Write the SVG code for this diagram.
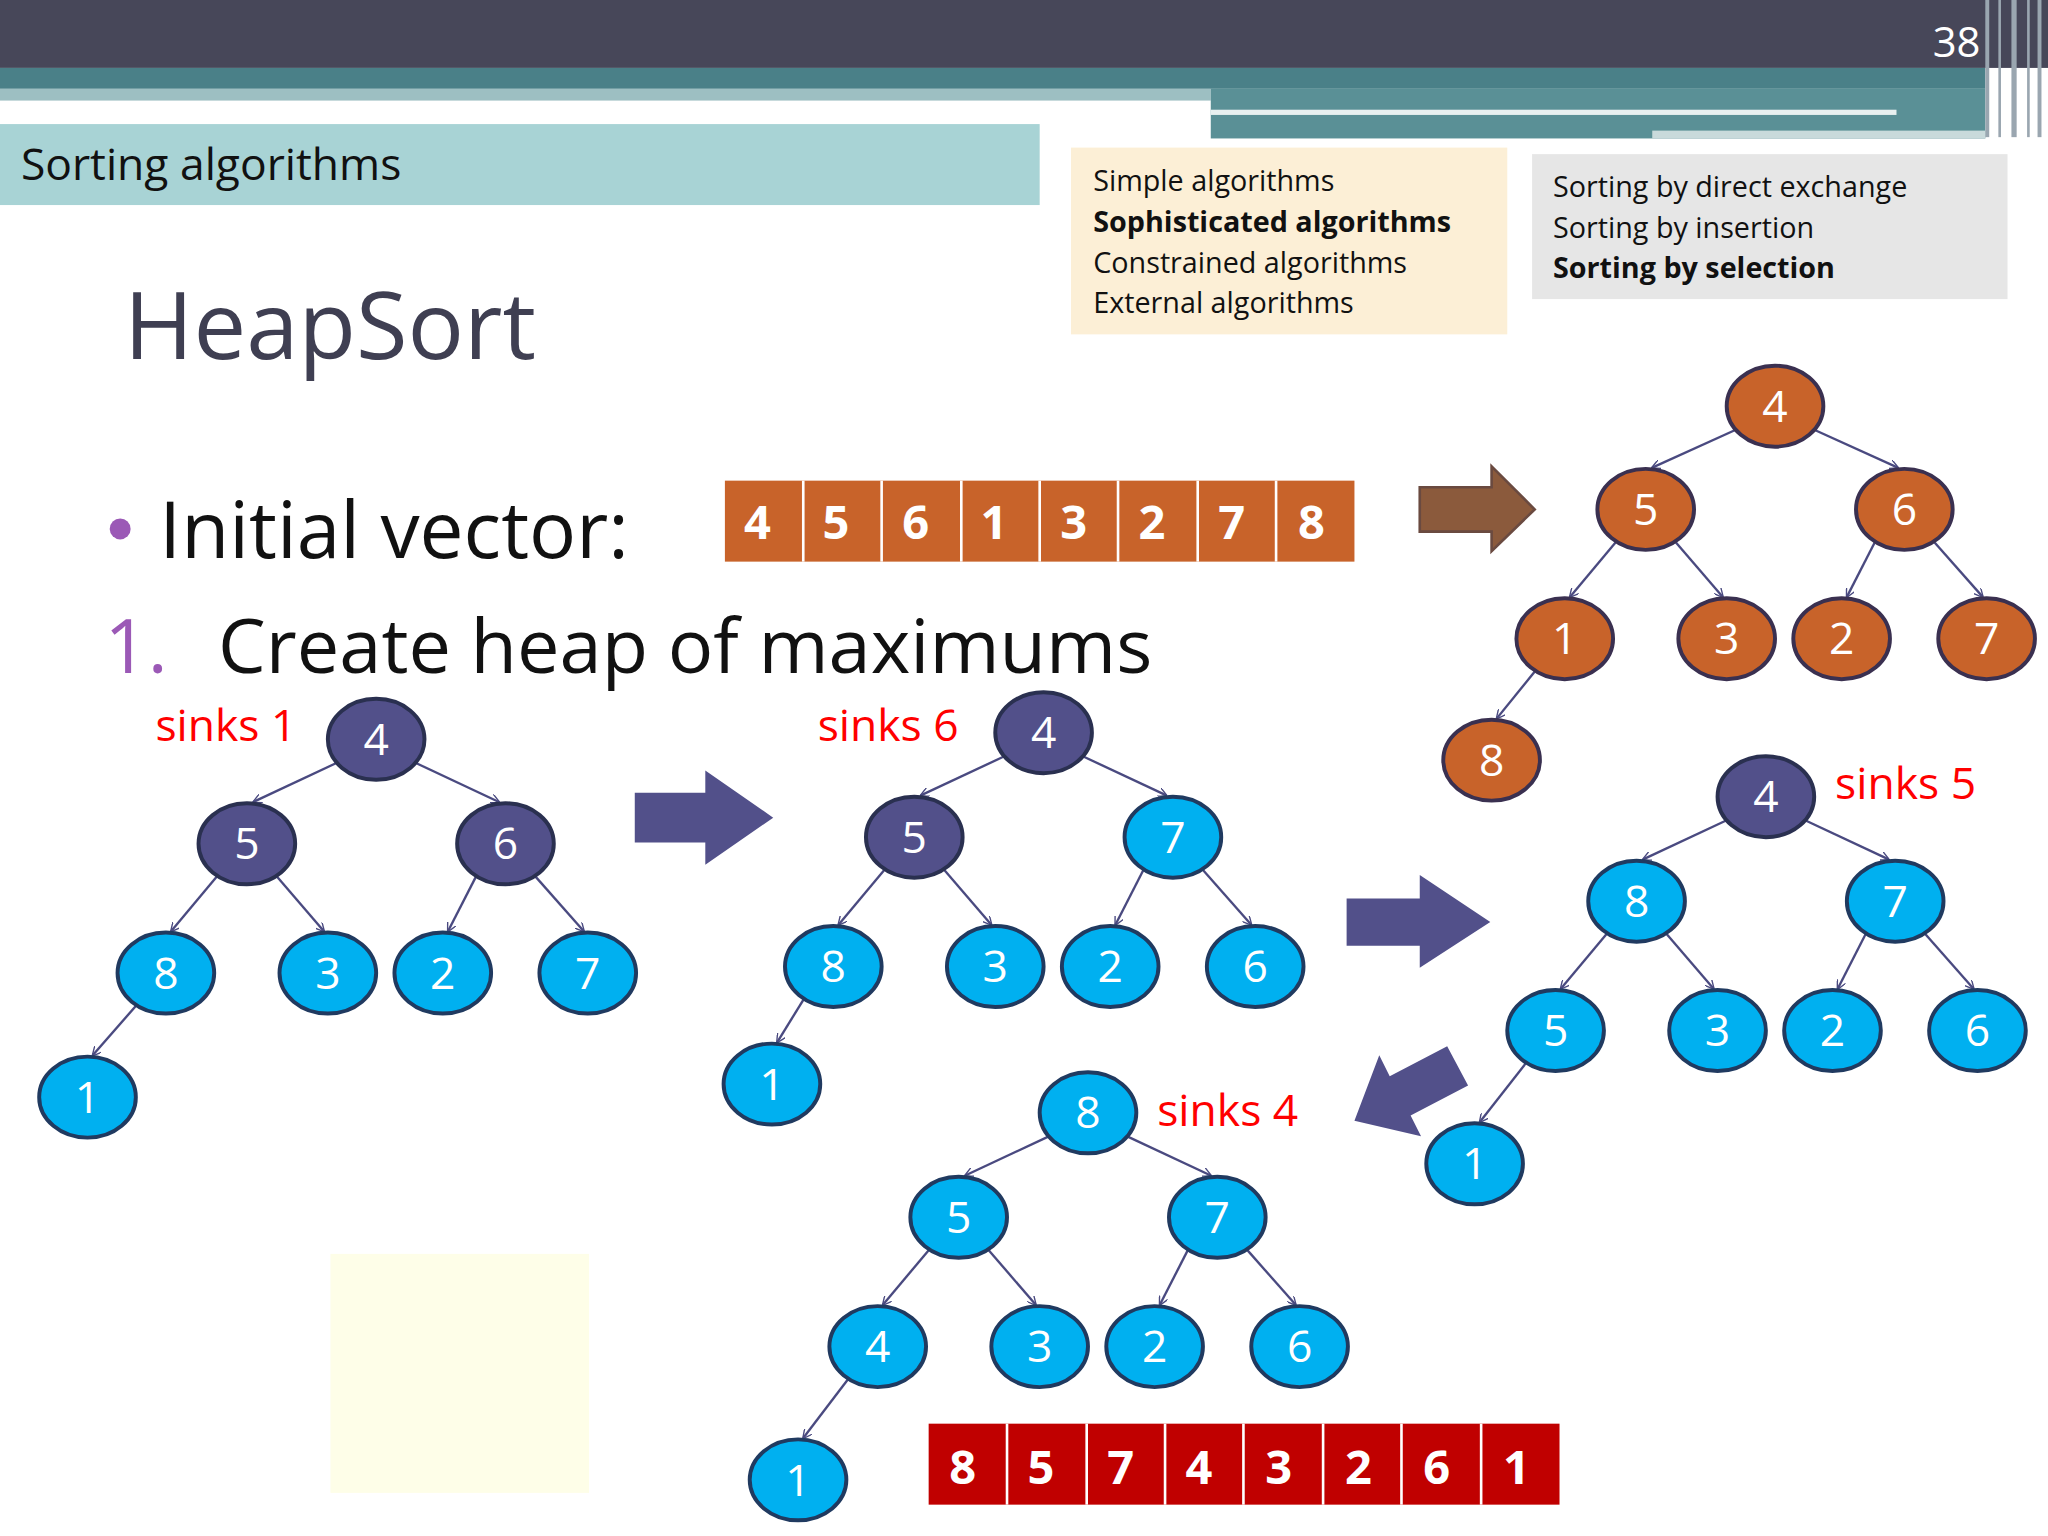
<svg xmlns="http://www.w3.org/2000/svg" width="2048" height="1536" viewBox="0 0 2048 1536">
<defs>
<marker id="ah" viewBox="0 0 10 10" refX="9" refY="5" markerWidth="7" markerHeight="7" orient="auto" markerUnits="userSpaceOnUse"><path d="M0,0 L10,5 L0,10" fill="none" stroke="#4a4a80" stroke-width="1.5"/></marker>
<style>
.nd{fill:#52508a;stroke:#2a3050;stroke-width:3}
.lb{fill:#00b0f0;stroke:#203a60;stroke-width:3}
.or{fill:#c8632a;stroke:#3a3050;stroke-width:3}
.nt{font-family:"Open Sans","DejaVu Sans",sans-serif;font-size:34px;fill:#fff;text-anchor:middle}
.e line{stroke:#4a4a80;stroke-width:1.8;marker-end:url(#ah)}
.sk{font-family:"Open Sans","DejaVu Sans",sans-serif;font-size:34px;fill:#ff0000}
.ct{font-family:"Open Sans","DejaVu Sans",sans-serif;font-size:36px;font-weight:bold;fill:#fff;text-anchor:middle}
.sm{font-family:"Open Sans","DejaVu Sans",sans-serif;font-size:22px;fill:#111}
</style>
</defs>
<rect width="2048" height="1536" fill="#fff"/>
<g transform="scale(1.306122)">
<rect x="0" y="0" width="1568" height="52" fill="#474759"/>
<rect x="0" y="52" width="1520" height="16" fill="#4a8088"/>
<rect x="0" y="68" width="927" height="9" fill="#9dbfc2"/>
<rect x="927" y="68" width="593" height="38" fill="#5a9096"/>
<rect x="927" y="84" width="525" height="4" fill="#e8f0f0"/>
<rect x="1265" y="100" width="255" height="6" fill="#c9dadb"/>
<g fill="#9aa6b0"><rect x="1520" y="0" width="3" height="105"/><rect x="1530" y="0" width="2" height="105"/><rect x="1540" y="0" width="4" height="105"/><rect x="1552" y="0" width="2" height="105"/><rect x="1560" y="0" width="3" height="105"/></g>
<text x="1498" y="44" font-family="Open Sans,sans-serif" font-size="32" fill="#fff" text-anchor="middle">38</text>
<rect x="0" y="95" width="796" height="62" fill="#a8d3d5"/>
<text x="16" y="138" font-family="Open Sans,sans-serif" font-size="34" fill="#111">Sorting algorithms</text>
<rect x="820" y="113" width="334" height="143" fill="#fcefd6"/>
<text class="sm" x="837" y="146">Simple algorithms</text>
<text class="sm" x="837" y="178" font-weight="bold">Sophisticated algorithms</text>
<text class="sm" x="837" y="209">Constrained algorithms</text>
<text class="sm" x="837" y="240">External algorithms</text>
<rect x="1173" y="118" width="364" height="111" fill="#e6e6e6"/>
<text class="sm" x="1189" y="151">Sorting by direct exchange</text>
<text class="sm" x="1189" y="182">Sorting by insertion</text>
<text class="sm" x="1189" y="213" font-weight="bold">Sorting by selection</text>
<text x="95" y="275" font-family="Open Sans,sans-serif" font-size="72" fill="#3f3f52">HeapSort</text>
<circle cx="92" cy="405" r="8" fill="#9b59b6"/>
<text x="122" y="427" font-family="Open Sans,sans-serif" font-size="60" fill="#111">Initial vector:</text>
<text x="80" y="515" font-family="Open Sans,sans-serif" font-size="58" fill="#9b59b6">1.</text>
<text x="167" y="515" font-family="Open Sans,sans-serif" font-size="58" fill="#111">Create heap of maximums</text>
<g id="arr1">
<rect x="555" y="368" width="482" height="62" fill="#c8632a"/>
<g stroke="#fff" stroke-width="2"><line x1="615" y1="368" x2="615" y2="430"/><line x1="675" y1="368" x2="675" y2="430"/><line x1="736" y1="368" x2="736" y2="430"/><line x1="796" y1="368" x2="796" y2="430"/><line x1="856" y1="368" x2="856" y2="430"/><line x1="917" y1="368" x2="917" y2="430"/><line x1="977" y1="368" x2="977" y2="430"/></g>
<text class="ct" x="580" y="413">4</text><text class="ct" x="640" y="413">5</text><text class="ct" x="701" y="413">6</text><text class="ct" x="761" y="413">1</text><text class="ct" x="822" y="413">3</text><text class="ct" x="882" y="413">2</text><text class="ct" x="943" y="413">7</text><text class="ct" x="1004" y="413">8</text>
</g>
<g id="arr2">
<rect x="711" y="1090" width="483" height="62" fill="#c00000"/>
<g stroke="#fff" stroke-width="2"><line x1="771" y1="1090" x2="771" y2="1152"/><line x1="832" y1="1090" x2="832" y2="1152"/><line x1="892" y1="1090" x2="892" y2="1152"/><line x1="952" y1="1090" x2="952" y2="1152"/><line x1="1013" y1="1090" x2="1013" y2="1152"/><line x1="1073" y1="1090" x2="1073" y2="1152"/><line x1="1134" y1="1090" x2="1134" y2="1152"/></g>
<text class="ct" x="737" y="1136">8</text><text class="ct" x="797" y="1136">5</text><text class="ct" x="858" y="1136">7</text><text class="ct" x="918" y="1136">4</text><text class="ct" x="979" y="1136">3</text><text class="ct" x="1040" y="1136">2</text><text class="ct" x="1100" y="1136">6</text><text class="ct" x="1161" y="1136">1</text>
</g>
<rect x="253" y="960" width="198" height="183" fill="#fefee8"/>
<g id="bigarrows">
<polygon points="1087,373 1142,373 1142,357 1175,390 1142,422 1142,407 1087,407" fill="#8b5a3c" stroke="#6a4a40" stroke-width="2"/>
<polygon points="486,607 540,607 540,590 592,626 540,662 540,645 486,645" fill="#52508a"/>
<polygon points="1031,688 1087,688 1087,670 1141,706 1087,741 1087,724 1031,724" fill="#52508a"/>
<polygon points="1124,831 1080,854 1088,870 1037,858 1056,808 1064,824 1108,801" fill="#52508a"/>
</g>
<g id="connectors" class="e">
<line x1="258" y1="584" x2="194" y2="614"/><line x1="318" y1="584" x2="382" y2="614"/>
<line x1="167" y1="670" x2="131" y2="713"/><line x1="211" y1="670" x2="248" y2="713"/>
<line x1="365" y1="670" x2="343" y2="713"/><line x1="409" y1="670" x2="447" y2="713"/>
<line x1="105" y1="769" x2="71" y2="808"/>
<line x1="769" y1="579" x2="705" y2="609"/><line x1="829" y1="579" x2="893" y2="609"/>
<line x1="678" y1="665" x2="642" y2="708"/><line x1="722" y1="665" x2="759" y2="708"/>
<line x1="876" y1="665" x2="854" y2="708"/><line x1="920" y1="665" x2="958" y2="708"/>
<line x1="616" y1="764" x2="595" y2="798"/>
<line x1="1322" y1="628" x2="1258" y2="658"/><line x1="1382" y1="628" x2="1446" y2="658"/>
<line x1="1231" y1="714" x2="1195" y2="757"/><line x1="1275" y1="714" x2="1312" y2="757"/>
<line x1="1429" y1="714" x2="1407" y2="757"/><line x1="1473" y1="714" x2="1511" y2="757"/>
<line x1="1169" y1="813" x2="1133" y2="859"/>
<line x1="803" y1="870" x2="739" y2="900"/><line x1="863" y1="870" x2="927" y2="900"/>
<line x1="712" y1="956" x2="676" y2="999"/><line x1="756" y1="956" x2="793" y2="999"/>
<line x1="910" y1="956" x2="888" y2="999"/><line x1="954" y1="956" x2="992" y2="999"/>
<line x1="650" y1="1055" x2="615" y2="1101"/>
<line x1="1329" y1="329" x2="1265" y2="358"/><line x1="1389" y1="329" x2="1453" y2="358"/>
<line x1="1238" y1="414" x2="1202" y2="457"/><line x1="1282" y1="414" x2="1319" y2="457"/>
<line x1="1436" y1="414" x2="1414" y2="457"/><line x1="1480" y1="414" x2="1518" y2="457"/>
<line x1="1176" y1="513" x2="1146" y2="550"/>
</g>
<g id="t1">
<g id="t1n4"><ellipse class="nd" cx="288" cy="566" rx="37" ry="31"/><text class="nt" x="288" y="578">4</text></g>
<g id="t1n5"><ellipse class="nd" cx="189" cy="646" rx="37" ry="31"/><text class="nt" x="189" y="658">5</text></g>
<g id="t1n6"><ellipse class="nd" cx="387" cy="646" rx="37" ry="31"/><text class="nt" x="387" y="658">6</text></g>
<g id="t1n8"><ellipse class="lb" cx="127" cy="745" rx="37" ry="31"/><text class="nt" x="127" y="757">8</text></g>
<g id="t1n3"><ellipse class="lb" cx="251" cy="745" rx="37" ry="31"/><text class="nt" x="251" y="757">3</text></g>
<g id="t1n2"><ellipse class="lb" cx="339" cy="745" rx="37" ry="31"/><text class="nt" x="339" y="757">2</text></g>
<g id="t1n7"><ellipse class="lb" cx="450" cy="745" rx="37" ry="31"/><text class="nt" x="450" y="757">7</text></g>
<g id="t1n1"><ellipse class="lb" cx="67" cy="840" rx="37" ry="31"/><text class="nt" x="67" y="852">1</text></g>
<text class="sk" x="119" y="567">sinks 1</text>
</g>
<g id="t2">
<g id="t2n4"><ellipse class="nd" cx="799" cy="561" rx="37" ry="31"/><text class="nt" x="799" y="573">4</text></g>
<g id="t2n5"><ellipse class="nd" cx="700" cy="641" rx="37" ry="31"/><text class="nt" x="700" y="653">5</text></g>
<g id="t2n7"><ellipse class="lb" cx="898" cy="641" rx="37" ry="31"/><text class="nt" x="898" y="653">7</text></g>
<g id="t2n8"><ellipse class="lb" cx="638" cy="740" rx="37" ry="31"/><text class="nt" x="638" y="752">8</text></g>
<g id="t2n3"><ellipse class="lb" cx="762" cy="740" rx="37" ry="31"/><text class="nt" x="762" y="752">3</text></g>
<g id="t2n2"><ellipse class="lb" cx="850" cy="740" rx="37" ry="31"/><text class="nt" x="850" y="752">2</text></g>
<g id="t2n6"><ellipse class="lb" cx="961" cy="740" rx="37" ry="31"/><text class="nt" x="961" y="752">6</text></g>
<g id="t2n1"><ellipse class="lb" cx="591" cy="830" rx="37" ry="31"/><text class="nt" x="591" y="842">1</text></g>
<text class="sk" x="626" y="567">sinks 6</text>
</g>
<g id="t3">
<g id="t3n4"><ellipse class="nd" cx="1352" cy="610" rx="37" ry="31"/><text class="nt" x="1352" y="622">4</text></g>
<g id="t3n8"><ellipse class="lb" cx="1253" cy="690" rx="37" ry="31"/><text class="nt" x="1253" y="702">8</text></g>
<g id="t3n7"><ellipse class="lb" cx="1451" cy="690" rx="37" ry="31"/><text class="nt" x="1451" y="702">7</text></g>
<g id="t3n5"><ellipse class="lb" cx="1191" cy="789" rx="37" ry="31"/><text class="nt" x="1191" y="801">5</text></g>
<g id="t3n3"><ellipse class="lb" cx="1315" cy="789" rx="37" ry="31"/><text class="nt" x="1315" y="801">3</text></g>
<g id="t3n2"><ellipse class="lb" cx="1403" cy="789" rx="37" ry="31"/><text class="nt" x="1403" y="801">2</text></g>
<g id="t3n6"><ellipse class="lb" cx="1514" cy="789" rx="37" ry="31"/><text class="nt" x="1514" y="801">6</text></g>
<g id="t3n1"><ellipse class="lb" cx="1129" cy="891" rx="37" ry="31"/><text class="nt" x="1129" y="903">1</text></g>
<text class="sk" x="1405" y="612">sinks 5</text>
</g>
<g id="t4">
<g id="t4n8"><ellipse class="lb" cx="833" cy="852" rx="37" ry="31"/><text class="nt" x="833" y="864">8</text></g>
<g id="t4n5"><ellipse class="lb" cx="734" cy="932" rx="37" ry="31"/><text class="nt" x="734" y="944">5</text></g>
<g id="t4n7"><ellipse class="lb" cx="932" cy="932" rx="37" ry="31"/><text class="nt" x="932" y="944">7</text></g>
<g id="t4n4"><ellipse class="lb" cx="672" cy="1031" rx="37" ry="31"/><text class="nt" x="672" y="1043">4</text></g>
<g id="t4n3"><ellipse class="lb" cx="796" cy="1031" rx="37" ry="31"/><text class="nt" x="796" y="1043">3</text></g>
<g id="t4n2"><ellipse class="lb" cx="884" cy="1031" rx="37" ry="31"/><text class="nt" x="884" y="1043">2</text></g>
<g id="t4n6"><ellipse class="lb" cx="995" cy="1031" rx="37" ry="31"/><text class="nt" x="995" y="1043">6</text></g>
<g id="t4n1"><ellipse class="lb" cx="611" cy="1133" rx="37" ry="31"/><text class="nt" x="611" y="1145">1</text></g>
<text class="sk" x="886" y="862">sinks 4</text>
</g>
<g id="t0">
<g id="t0n4"><ellipse class="or" cx="1359" cy="311" rx="37" ry="31"/><text class="nt" x="1359" y="323">4</text></g>
<g id="t0n5"><ellipse class="or" cx="1260" cy="390" rx="37" ry="31"/><text class="nt" x="1260" y="402">5</text></g>
<g id="t0n6"><ellipse class="or" cx="1458" cy="390" rx="37" ry="31"/><text class="nt" x="1458" y="402">6</text></g>
<g id="t0n1"><ellipse class="or" cx="1198" cy="489" rx="37" ry="31"/><text class="nt" x="1198" y="501">1</text></g>
<g id="t0n3"><ellipse class="or" cx="1322" cy="489" rx="37" ry="31"/><text class="nt" x="1322" y="501">3</text></g>
<g id="t0n2"><ellipse class="or" cx="1410" cy="489" rx="37" ry="31"/><text class="nt" x="1410" y="501">2</text></g>
<g id="t0n7"><ellipse class="or" cx="1521" cy="489" rx="37" ry="31"/><text class="nt" x="1521" y="501">7</text></g>
<g id="t0n8"><ellipse class="or" cx="1142" cy="582" rx="37" ry="31"/><text class="nt" x="1142" y="594">8</text></g>
</g>
</g>
</svg>
